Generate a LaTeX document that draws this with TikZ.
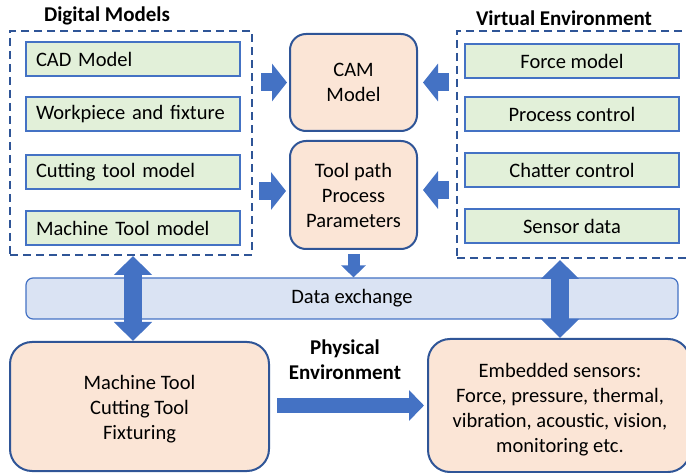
\documentclass[tikz,border=0pt]{standalone}
\usepackage{fontspec}
\setmainfont{Carlito}
\usetikzlibrary{arrows.meta,calc}
\definecolor{arrowblue}{HTML}{4472C4}
\definecolor{darkblue}{HTML}{2F5597}
\definecolor{greenfill}{HTML}{E2F0D9}
\definecolor{peachfill}{HTML}{FBE5D6}
\definecolor{barfill}{HTML}{DAE3F3}
\tikzset{
  txt/.style={font=\fontsize{20.5}{25}\selectfont},
  title/.style={font=\fontsize{21}{25}\selectfont\bfseries, align=center},
  modelbox/.style={txt, draw=arrowblue, line width=2pt, fill=greenfill,
    minimum height=34pt, inner xsep=10pt, inner ysep=0pt},
  leftmodel/.style={modelbox, text width=194pt, align=left},
  rightmodel/.style={modelbox, minimum width=214pt, align=center},
  peachbox/.style={txt, draw=darkblue, line width=2pt, fill=peachfill,
    rounded corners=16pt, align=center, inner sep=0pt},
  groupbox/.style={draw=darkblue, line width=2pt, dash pattern=on 8pt off 5pt,
    inner sep=0pt},
  blockarrow/.style={draw=arrowblue, line width=18pt,
    -{Triangle[length=15pt,width=37pt]}},
  dblarrow/.style={draw=arrowblue, line width=18pt,
    {Triangle[length=19pt,width=37pt]}-{Triangle[length=19pt,width=37pt]}},
}
\begin{document}
\begin{tikzpicture}[x=1pt,y=-1pt]
\useasboundingbox (0,0) rectangle (686,473);

% group frames
\node[groupbox, minimum width=242pt, minimum height=224pt] (dm) at (131,143) {};
\node[groupbox, minimum width=233pt, minimum height=227pt] (ve) at (573.5,144.5) {};
\node[title] (dmt) at (107,16) {Digital Models};
\node[title] (vet) at (564,18) {Virtual Environment};

% digital models
\node[leftmodel] (cad) at (133,59) {CAD Model};
\node[leftmodel] (wp) at (133,114) {Workpiece and fixture};
\node[leftmodel] (ct) at (133,172) {Cutting tool model};
\node[leftmodel] (mt) at (133,228) {Machine Tool model};

% virtual environment
\node[rightmodel] (fm) at (572,61) {Force model};
\node[rightmodel] (pc) at (572,114) {Process control};
\node[rightmodel] (cc) at (572,170.5) {Chatter control};
\node[rightmodel] (sd) at (572,226.5) {Sensor data};

% CAM side
\node[peachbox, minimum width=127pt, minimum height=97pt] (cam) at (353.5,82.5) {CAM\\Model};
\node[peachbox, minimum width=127pt, minimum height=108pt] (tp) at (353.5,195) {Tool path\\Process\\Parameters};

% data exchange bar
\node[txt, draw=arrowblue, line width=1.2pt, fill=barfill, rounded corners=7pt,
  minimum width=652pt, minimum height=41pt, inner sep=0pt] (dx) at (352,298.5) {Data exchange};

% physical side
\node[peachbox, minimum width=259pt, minimum height=129pt, rounded corners=22pt] (mach) at (139.5,406.5) {};
\node[txt, align=center] (macht) at (139.5,409) {Machine Tool\\Cutting Tool\\Fixturing};
\node[peachbox, minimum width=262pt, minimum height=133pt, rounded corners=22pt] (emb) at (559,405.5) {};
\node[txt, align=center] (embt) at (560,410) {Embedded sensors:\\Force, pressure, thermal,\\vibration, acoustic, vision,\\monitoring etc.};
\node[title] (pet) at (345,360) {Physical\\Environment};

% arrows into the CAM boxes
\draw[blockarrow] ([xshift=8pt]dm.east |- cam.west) -- ([xshift=-2pt]cam.west);
\draw[blockarrow] ([xshift=6pt,yshift=4pt]dm.east |- tp.west) -- ([xshift=-3pt,yshift=4pt]tp.west);
\draw[blockarrow] ([xshift=-7pt]ve.west |- cam.east) -- ([xshift=5pt]cam.east);
\draw[blockarrow] ([xshift=-7pt,yshift=5pt]ve.west |- tp.east) -- ([xshift=5pt,yshift=5pt]tp.east);

% tool path to data exchange
\draw[draw=arrowblue, line width=12pt, -{Triangle[length=12pt,width=24pt]}]
  ([yshift=-4pt]tp.south) -- (dx.north -| tp.south);

% two-way links through the data exchange
\draw[dblarrow] (dm.south -| cad.south) -- (mach.north -| cad.south);
\coordinate (vx) at (560,0);
\draw[dblarrow] ([yshift=-1pt]ve.south -| vx) -- (emb.north -| vx);

% machine to sensors
\draw[draw=arrowblue, line width=15pt, -{Triangle[length=15pt,width=30pt]}]
  ([xshift=7pt,yshift=1pt]mach.east) -- ([xshift=-3pt,yshift=1pt]mach.east -| emb.west);
\end{tikzpicture}
\end{document}
